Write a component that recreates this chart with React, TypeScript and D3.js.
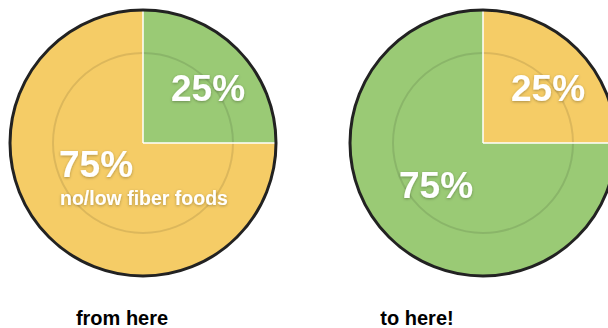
import React from "react";
import * as d3 from "d3";

const captions = ["from here", "to here!"];
const fiberShare = [25, 75]; // first pie: high-fiber (green) share
const lowShare = [75, 25];
const sublabels = ["no/low fiber foods", ""];

const YELLOW = "#f5cc66";
const GREEN = "#9aca75";

const W = 608;
const H = 328;
const R = 133;
const R_INNER = 90;
const centersX = [143, 483];
const CY = 143;
const captionX = [122, 417];

export default function App() {
  const pie = d3
    .pie<{ v: number; c: string }>()
    .value((d) => d.v)
    .sort(null);
  const arc = d3
    .arc<d3.PieArcDatum<{ v: number; c: string }>>()
    .innerRadius(0)
    .outerRadius(R);

  return (
    <svg
      width={W}
      height={H}
      style={{ position: "absolute", left: 0, top: 0 }}
      fontFamily="'Liberation Sans', Arial, Helvetica, sans-serif"
    >
      <defs>
        <filter id="ts" x="-20%" y="-30%" width="140%" height="160%">
          <feDropShadow dx="0" dy="1" stdDeviation="1.5" floodColor="#000" floodOpacity="0.3" />
        </filter>
      </defs>
      {captions.map((cap, i) => {
        const small = i === 0 ? fiberShare[0] : lowShare[1];
        const big = i === 0 ? lowShare[0] : fiberShare[1];
        const smallColor = i === 0 ? GREEN : YELLOW;
        const bigColor = i === 0 ? YELLOW : GREEN;
        const data = [
          { v: small, c: smallColor },
          { v: big, c: bigColor },
        ];
        const arcs = pie(data);
        const cx = centersX[i];
        const bigY = sublabels[i] ? 34 : 55;
        return (
          <g key={i}>
            <g transform={`translate(${cx},${CY})`}>
              {arcs.map((a, j) => (
                <path key={j} d={arc(a) || ""} fill={a.data.c} />
              ))}
              <circle r={R_INNER} fill="none" stroke="#000" strokeOpacity={0.1} strokeWidth={2} />
              {arcs.map((a, j) => (
                <path
                  key={"s" + j}
                  d={`M0,0L${Math.sin(a.startAngle) * R},${-Math.cos(a.startAngle) * R}`}
                  stroke="#fff"
                  strokeWidth={1.5}
                />
              ))}
              <circle r={R} fill="none" stroke="#222" strokeWidth={3} />
              <text
                x={65}
                y={-42}
                textAnchor="middle"
                fill="#fff"
                fontWeight="bold"
                fontSize={37}
                filter="url(#ts)"
              >
                {small}%
              </text>
              <text
                x={-84}
                y={bigY}
                textAnchor="start"
                fill="#fff"
                fontWeight="bold"
                fontSize={37}
                filter="url(#ts)"
              >
                {big}%
              </text>
              {sublabels[i] && (
                <text
                  x={-83}
                  y={62}
                  textAnchor="start"
                  fill="#fff"
                  fontWeight="bold"
                  fontSize={19.5}
                  filter="url(#ts)"
                >
                  {sublabels[i]}
                </text>
              )}
            </g>
            <text
              x={captionX[i]}
              y={325}
              textAnchor="middle"
              fill="#000"
              fontWeight="bold"
              fontSize={20}
            >
              {cap}
            </text>
          </g>
        );
      })}
    </svg>
  );
}
